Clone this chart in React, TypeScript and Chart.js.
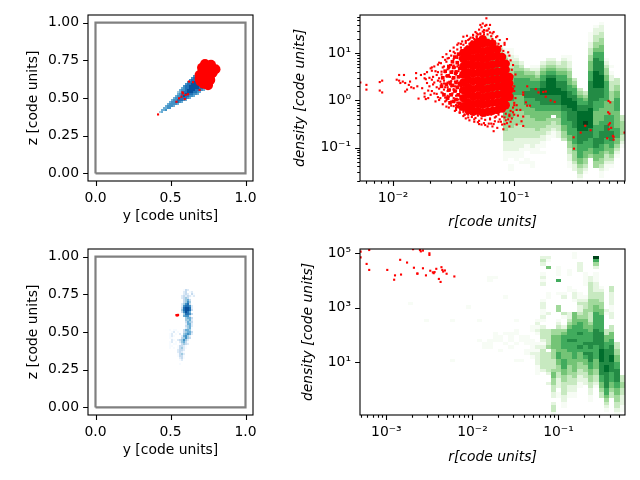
import { useEffect, useRef } from "react";
import { Chart } from "chart.js/auto";

const greens = ["#f7fcf5", "#e5f5e0", "#c7e9c0", "#a1d99b", "#74c476", "#41ab5d", "#238b45", "#006d2c", "#00441b"];
const blues = ["#f7fbff", "#deebf7", "#c6dbef", "#9ecae1", "#6baed6", "#4292c6", "#2171b5", "#08519c", "#08306b"];

const boxY = [0, 1, 1, 0, 0];
const boxZ = [0, 0, 1, 1, 0];

// top left: blue histogram rows
const coneRow = [30, 31, 32, 33, 34, 35, 36, 37, 38, 39, 40, 41, 42, 43, 44, 45, 46, 47, 48, 49, 50];
const coneCol = [32, 33, 34, 35, 36, 37, 38, 39, 40, 41, 41, 42, 43, 44, 45, 46, 47, 48, 49, 50, 51];
const coneShades = ["45", "556", "5566", "56665", "566665", "5667765", "56677765", "566777765", "5667877665", "56778877665", "456778887765", "5667888877765", "567788888776", "67788888777", "6778888877", "677888877", "67788877", "6778887", "67887", "6787", "676"];
const coneRedY = [0.417, 0.623, 0.65, 0.583, 0.601, 0.617, 0.573, 0.557, 0.595, 0.54, 0.694, 0.579];
const coneRedZ = [0.391, 0.609, 0.605, 0.531, 0.52, 0.525, 0.509, 0.498, 0.493, 0.475, 0.553, 0.538];
const clumpY = [0.741, 0.774, 0.787, 0.714, 0.747, 0.781, 0.694, 0.728, 0.761, 0.694, 0.728, 0.754, 0.74, 0.71, 0.7, 0.72, 0.75, 0.765, 0.8, 0.77, 0.73];
const clumpZ = [0.703, 0.703, 0.687, 0.673, 0.673, 0.667, 0.653, 0.64, 0.64, 0.627, 0.607, 0.607, 0.65, 0.7, 0.61, 0.595, 0.585, 0.62, 0.69, 0.72, 0.725];

// bottom left: blue histogram rows
const streakRow = [58, 57, 56, 55, 54, 53, 52, 51, 50, 49, 48, 47, 46, 45, 44, 43, 42, 41, 40, 39, 38, 37, 36, 35, 34, 33, 32, 31, 30, 29, 28, 27, 26, 25, 24, 23, 38, 37, 36, 35, 34, 33, 32, 31, 30, 29, 21];
const streakCol = [44, 44, 44, 43, 43, 44, 44, 43, 43, 43, 43, 43, 44, 44, 45, 45, 45, 45, 45, 45, 44, 44, 44, 43, 43, 42, 42, 42, 41, 41, 41, 41, 41, 41, 42, 42, 37, 38, 37, 36, 37, 38, 37, 37, 36, 37, 42];
const streakShades = ["132", "23012", "232031", "2323212", "23431", "3453", "3464", "24673", "267762", "378872", "478873", "36875", "47763", "5663", "4553", "4452", "3543", "2552", "3452", "2451", "35541", "34553", "45652", "25642", "34643", "34642", "24531", "13432", "13321", "13421", "2332", "2321", "1342", "1331", "231", "12", "10110", "1201", "120102", "0121", "11", "2102", "1201", "1011", "011", "1010", "1"];
const streakRedY = [0.54, 0.545, 0.55];
const streakRedZ = [0.612, 0.61, 0.613];

// top right: green histogram columns
const topCol = [23, 24, 25, 26, 27, 28, 29, 30, 31, 32, 33, 34, 35, 36, 37, 38, 39, 40, 41, 42, 43, 44, 45, 46, 47, 48, 49];
const topStart = [6, 5, 7, 8, 10, 10, 12, 14, 16, 15, 15, 14, 13, 13, 14, 12, 12, 19, 22, 23, 5, 3, 2, 13, 15, 19, 30];
const topShades = [
  "232333444455555554",
  "1234444555566665555",
  "123445556666655554",
  "1234455566666655555",
  "1234445556666666655554444333222111",
  "1122334455566666555554443333222110011",
  "12344556666655555444433332222111",
  "2345566666555554444333322211101",
  "34566667766555444433322110011",
  "1245566777666555444333222110011",
  "123456677776665554443322111",
  "2345667788777665554433221101",
  "2345678888877766554433211",
  "234567888887776650433211",
  "23456677887776655443322",
  "12334566777888877666655443",
  "1122344556677888777766665544332211",
  "3456677888777776666655444322",
  "3456677888888777766665543321",
  "3456778889887776665544321",
  "11122334455566677777777888888777666554",
  "1223344566777788888777766655556666777665544",
  "12233445566677778888777666555566677776655443211",
  "1234455666666555566677776655433211",
  "1012233344455556666677766554321",
  "334455666655555666554321",
  "3344443321",
];

// log10 of r and density for the scattered red particles
const topRedLogR = [
  -2.27, -2.22, -2.22, -2.11, -2.09, -2.11, -2.09, -1.97, -1.95, -1.95, -1.94, -1.91, -1.92, -1.9, -1.885, -1.9, -1.87, -1.86, -1.85, -1.81, -1.81, -1.83, -1.8, -1.79, -1.77, -1.74, -1.74, -1.76, -1.74, -1.73, -1.72, -1.71, -1.68, -1.68, -1.66, -1.64, -1.64, -1.62, -1.61, -1.605, -1.6, -1.58, -1.57, -1.56, -1.55, -1.54, -1.53, -1.53, -1.52, -1.5, -1.49, -1.48, -1.47, -1.46, -1.45, -1.43, -1.41, -1.42, -1.39, -1.37, -1.35, -1.34, -1.32, -1.31, -1.27, -1.25, -1.28, -1.26, -1.23, -1.23, -1.2, -1.21, -1.19, -1.17, -1.15, -1.09, -1.1, -1.06, -1.06, -1.04, -1.08,
  -0.893, -0.926, -0.926, -0.822, -0.8, -0.76, -0.74, -0.74, -0.7, -0.666, -0.904, -0.893, -0.87, -0.98, -0.95, -1.0, -0.97, -0.926, -0.94, -0.98, -0.926, -0.51, -0.507, -0.452, -0.414, -0.37, -0.222, -0.208, -0.225, -0.214, -0.22, -0.21, -0.2, -0.22, -0.233, -0.186, -0.18, -0.18, -0.09,
  -1.7, -1.69, -1.67, -1.65, -1.63, -1.62, -1.6, -1.59, -1.58, -1.57, -1.56, -1.55, -1.54, -1.53, -1.52, -1.51, -1.5, -1.5, -1.49, -1.48, -1.47, -1.47, -1.46, -1.45, -1.44, -1.44, -1.43, -1.42, -1.41, -1.4, -1.68, -1.63, -1.59, -1.56, -1.53, -1.5, -1.47, -1.57, -1.52, -1.49, -1.45, -1.42, -1.39, -1.44, -1.4, -1.37, -1.34, -1.31, -1.28, -1.25, -1.22, -1.18, -1.14, -1.38, -1.33, -1.29, -1.24, -1.2, -1.16, -1.12, -1.08, -1.04, -1.3, -1.24, -1.18, -1.13, -1.07, -1.03, -1.02, -1.01, -1.0, -1.02, -1.01,
];
const topRedLogD = [
  0.38, 0.33, 0.23, 0.39, 0.42, 0.21, 0.17, 0.44, 0.54, 0.42, 0.37, 0.54, 0.4, 0.37, 0.23, 0.19, 0.33, 0.4, 0.28, 0.58, 0.47, 0.26, 0.3, 0.04, 0.54, 0.56, 0.47, 0.26, 0.08, 0.03, 0.37, 0.21, 0.63, 0.44, 0.15, 0.28, 0.54, 0.01, 0.4, 0.79, 0.61, 0.23, 0.86, -0.13, 0.89, 0.54, -0.06, 0.23, 0.75, 1.03, 0.01, -0.16, 0.72, 1.21, -0.13, 1.25, -0.3, 1.35, 1.37, -0.2, -0.35, 1.39, -0.37, 1.42, -0.51, 1.49, 1.6, 1.63, 1.74, 1.6, 1.6, -0.49, -0.49, -0.65, -0.34, -0.61, -0.51, 1.3, -0.48, -0.55, 1.18,
  0.3, 0.17, 0.12, 0.24, 0.17, 0.18, 0.19, 0.08, 0, -0.03, -0.04, -0.11, -0.11, -0.2, -0.2, -0.3, -0.32, -0.34, -0.44, -0.51, -0.54, -0.78, -1.02, -0.68, -0.535, -0.63, -0.01, -0.04, -0.25, -0.28, -0.51, -0.48, -0.58, -0.61, -0.8, -0.75, -0.77, -0.83, -0.68,
  0.48, 0.12, 0.34, 0.62, 0.07, 0.47, 0.17, 0.7, 0.36, 0.06, 0.52, 0.28, 0.68, 0.13, 0.41, 0.83, -0.03, 0.24, 0.58, -0.1, 0.93, 0.12, 0.99, 0.32, -0.18, 1.04, 0.76, -0.24, 1.1, 0.9, 0.7, 0.76, 0.92, 0.98, 1.05, 1.12, 1.18, -0.02, -0.11, -0.22, -0.26, -0.33, -0.28, 1.2, 1.26, 1.3, 1.33, 1.36, 1.4, 1.44, 1.48, 1.42, 1.36, -0.36, -0.4, -0.43, -0.41, -0.38, -0.44, -0.4, -0.36, -0.33, -0.46, -0.52, -0.55, -0.45, -0.42, -0.22, 0.1, 0.25, -0.1, 0.45, -0.25,
];

// denser particles round the edge of the cloud
const topRimLogR = [
  -1.74, -1.73, -1.72, -1.71, -1.7, -1.69, -1.68, -1.67, -1.66, -1.66, -1.65, -1.64, -1.63, -1.63, -1.62, -1.62, -1.61, -1.6, -1.6, -1.59, -1.59, -1.58, -1.58, -1.57, -1.57, -1.56, -1.56, -1.55, -1.55, -1.55, -1.54, -1.54, -1.54, -1.53, -1.53, -1.52, -1.52, -1.52, -1.51, -1.51, -1.51, -1.5, -1.5, -1.5, -1.49, -1.49, -1.49, -1.48, -1.48, -1.48, -1.47, -1.47, -1.47, -1.46, -1.46, -1.45, -1.45, -1.45, -1.44, -1.44, -1.44, -1.43, -1.43, -1.42, -1.42, -1.42, -1.41, -1.41,
  -1.5, -1.49, -1.48, -1.47, -1.46, -1.45, -1.44, -1.43, -1.51, -1.48, -1.46, -1.44, -1.47, -1.45, -1.5, -1.43, -1.49, -1.46, -1.53, -1.55,
  -1.4, -1.39, -1.38, -1.37, -1.36, -1.35, -1.34, -1.33, -1.32, -1.31, -1.3, -1.29, -1.28, -1.27, -1.26, -1.25, -1.24, -1.23, -1.22, -1.21, -1.2, -1.19, -1.18, -1.17, -1.16, -1.15, -1.13, -1.12, -1.11, -1.09, -1.08,
  -1.4, -1.38, -1.37, -1.35, -1.33, -1.3, -1.29, -1.27, -1.25, -1.24, -1.22, -1.2, -1.19, -1.17, -1.16, -1.14, -1.13, -1.11, -1.1, -1.08, -1.07, -1.05, -1.04, -1.03, -1.02, -1.01, -1.0, -0.99, -1.0, -0.99, -1.02, -1.01, -1.03, -1.04, -1.05, -1.0, -0.98,
];
const topRimLogD = [
  0.15, 0.45, 0.6, 0.05, 0.3, 0.68, 0.2, 0.5, 0.38, 0.72, -0.02, 0.14, 0.42, 0.6, 0.25, 0.8, 0.05, 0.35, 0.55, -0.08, 0.15, 0.72, 0.42, 0.28, 0.6, 0.0, 0.82, 0.2, 0.38, 0.66, -0.15, 0.08, 0.9, 0.5, 0.75, -0.02, 0.3, 0.95, 0.15, 0.62, 0.82, -0.12, 0.05, 0.88, 0.4, 0.7, 1.0, -0.2, 0.2, 0.55, -0.05, 0.9, 1.08, -0.15, 0.75, 0.1, 0.98, -0.25, 0.3, 0.85, 1.12, -0.08, 0.6, -0.2, 1.05, 1.18, -0.3, 1.0,
  0.22, 0.3, 0.1, 0.42, 0.3, 0.5, 0.18, 0.42, 0.46, 0.62, 0.02, 0.68, 0.26, 0.88, 0.74, 0.2, 0.56, 0.62, 0.34, 0.1,
  1.22, 1.14, 1.28, 1.2, 1.33, 1.25, 1.38, 1.3, 1.45, 1.34, 1.4, 1.5, 1.42, 1.55, 1.46, 1.4, 1.58, 1.48, 1.4, 1.52, 1.44, 1.36, 1.3, 1.45, 1.25, 1.34, 1.2, 1.28, 1.15, 1.05, 1.22,
  -0.38, -0.3, -0.42, -0.28, -0.45, -0.32, -0.5, -0.38, -0.48, -0.32, -0.55, -0.4, -0.3, -0.5, -0.36, -0.58, -0.3, -0.45, -0.34, -0.5, -0.28, -0.4, -0.3, -0.45, -0.38, -0.15, -0.05, 0.05, 0.3, 0.55, 0.65, 0.75, 0.85, 0.95, 1.02, 0.2, -0.1,
];

// thick patches where the particles on the left of the cloud run together
const topMidLogR = [-1.6, -1.59, -1.58, -1.57, -1.56, -1.55, -1.55, -1.54, -1.54, -1.53, -1.53, -1.52, -1.52, -1.51, -1.51, -1.5, -1.5, -1.5, -1.49, -1.49, -1.48, -1.48, -1.48, -1.47, -1.47, -1.47, -1.46, -1.46, -1.46, -1.45, -1.45, -1.45, -1.44, -1.44, -1.44, -1.44, -1.43, -1.43];
const topMidLogD = [0.3, 0.48, 0.12, 0.62, 0.34, 0.05, 0.52, 0.72, 0.22, 0.38, -0.05, 0.6, 0.12, 0.82, 0.32, 0.48, -0.02, 0.7, 0.2, 0.92, 0.38, 0.6, 0.02, 0.8, -0.12, 0.28, 0.5, 0.98, 0.12, 0.68, -0.06, 0.36, 0.9, 0.2, -0.18, 0.52, 1.05, 0.76];

// the solid middle of the red cloud
const topCoreLogR = [
  -1.42, -1.42, -1.42, -1.42, -1.42, -1.42, -1.42, -1.42,
  -1.38, -1.38, -1.38, -1.38, -1.38, -1.38, -1.38, -1.38, -1.38, -1.34, -1.34, -1.34, -1.34, -1.34, -1.34, -1.34, -1.34, -1.34, -1.34,
  -1.3, -1.3, -1.3, -1.3, -1.3, -1.3, -1.3, -1.3, -1.3, -1.3, -1.26, -1.26, -1.26, -1.26, -1.26, -1.26, -1.26, -1.26, -1.26, -1.26, -1.26,
  -1.22, -1.22, -1.22, -1.22, -1.22, -1.22, -1.22, -1.22, -1.22, -1.22, -1.18, -1.18, -1.18, -1.18, -1.18, -1.18, -1.18, -1.18, -1.18, -1.18,
  -1.14, -1.14, -1.14, -1.14, -1.14, -1.14, -1.14, -1.14, -1.14, -1.1, -1.1, -1.1, -1.1, -1.1, -1.1, -1.1, -1.1,
  -1.07, -1.07, -1.07, -1.07, -1.07, -1.07, -1.07, -1.04, -1.04, -1.04, -1.04,
];
const topCoreLogD = [
  -0.12, 0.05, 0.22, 0.38, 0.55, 0.71, 0.88, 1.0,
  -0.2, -0.05, 0.12, 0.28, 0.44, 0.6, 0.77, 0.93, 1.08, -0.24, -0.08, 0.08, 0.24, 0.41, 0.57, 0.73, 0.89, 1.05, 1.18,
  -0.22, -0.06, 0.1, 0.27, 0.43, 0.59, 0.75, 0.92, 1.08, 1.24, -0.26, -0.09, 0.07, 0.23, 0.39, 0.56, 0.72, 0.88, 1.04, 1.2, 1.3,
  -0.24, -0.07, 0.09, 0.25, 0.42, 0.58, 0.74, 0.9, 1.06, 1.22, -0.22, -0.05, 0.11, 0.28, 0.44, 0.6, 0.76, 0.93, 1.09, 1.2,
  -0.2, -0.04, 0.12, 0.29, 0.45, 0.61, 0.78, 0.94, 1.08, -0.17, -0.02, 0.14, 0.3, 0.46, 0.62, 0.78, 0.92,
  -0.1, 0.05, 0.2, 0.35, 0.5, 0.65, 0.78, 0.08, 0.22, 0.36, 0.5,
];

// bottom right: green histogram columns
const lowCol = [9, 12, 17, 20, 22, 22, 23, 24, 25, 26, 27, 28, 29, 30, 31, 32, 33, 34, 35, 36, 37, 38, 39, 40, 41, 42, 43, 44, 45, 46, 47, 48, 49];
const lowStart = [16, 21, 21, 17, 21, 27, 28, 8, 8, 26, 14, 25, 21, 26, 26, 23, 21, 2, 2, 24, 5, 13, 5, 1, 3, 7, 8, 2, 11, 18, 11, 28, 38];
const lowShades = [
  "1",
  "1",
  "1000000000001",
  "1",
  "1",
  "1",
  "11",
  "1100000000000000000111",
  "10000000000000000111",
  "11001",
  "100000000001001",
  "11101",
  "1001100100001",
  "11000001",
  "111011",
  "1100111121",
  "12121001212222111",
  "23200121200001221121023332123333332",
  "210500000001100002000033333403333332002",
  "44555544433345544332202331",
  "1110600010004400123445555566554433222011",
  "1200003100245666655566655443333221100",
  "0110001100000022345666766655554443332211",
  "110000000001221000555566667666665555443322110",
  "022200000011232234566676667655544332211",
  "111100012334445556666766765544332200",
  "22333334444333455666776777665544332211",
  "96420111222334455666667777766665554433210",
  "1233344556666677777888877776655433",
  "2100003355667777788777776654321",
  "3322221122003355667778877766655433",
  "3344556677776655443321",
  "33443322211",
];

const lowRedLogR = [-3.3, -3.3, -3.23, -3.2, -3.2, -2.99, -2.91, -2.9, -2.84, -2.83, -2.76, -2.69, -2.68, -2.64, -2.64, -2.61, -2.6, -2.575, -2.575, -2.54, -2.5, -2.5, -2.49, -2.46, -2.45, -2.44, -2.42, -2.39, -2.37, -2.36, -2.35, -2.34, -2.32, -2.3, -2.21];
const lowRedLogD = [5.06, 4.85, 4.61, 5.12, 4.39, 4.39, 4.03, 4.19, 4.76, 4.22, 4.66, 5.15, 4.47, 4.25, 4.26, 5.12, 5.07, 5.1, 4.45, 4.19, 5.0, 4.94, 4.36, 4.3, 4.27, 4.31, 4.43, 4.06, 3.95, 4.49, 4.39, 4.33, 4.37, 4.25, 4.15];

const supers: Record<string, string> = { "-": "⁻", "0": "⁰", "1": "¹", "2": "²", "3": "³", "5": "⁵" };
const powerLabel = (v: number) => "10" + String(Math.round(Math.log10(v))).split("").map((c) => supers[c]).join("");

const zip = (xs: number[], ys: number[]) => xs.map((x, i) => ({ x, y: ys[i] }));
const zipLog = (xs: number[], ys: number[]) => xs.map((x, i) => ({ x: 10 ** x, y: 10 ** ys[i] }));

const red = (data: any[], radius = 1.5, style = "rect") => ({
  data,
  pointStyle: style,
  pointRadius: radius,
  pointBackgroundColor: "#ff0000",
  pointBorderWidth: 0,
  showLine: false,
});

const box = {
  data: zip(boxY, boxZ),
  showLine: true,
  borderColor: "#808080",
  borderWidth: 2.2,
  pointRadius: 0,
};

const cellsOf = (cols: number[], starts: number[], shades: string[], palette: string[], byRow: boolean, xEdge: (i: number) => number, yEdge: (j: number) => number) => {
  const cells: any[] = [];
  shades.forEach((s, k) => {
    s.split("").forEach((c, n) => {
      if (c === "0") return;
      const i = byRow ? cols[k] + n : cols[k];
      const j = byRow ? starts[k] : starts[k] + n;
      cells.push({ x0: xEdge(i), x1: xEdge(i + 1), y0: yEdge(j), y1: yEdge(j + 1), color: palette[Number(c) - 1] });
    });
  });
  return cells;
};

const heatPlugin = (cells: any[]) => ({
  id: "heat",
  beforeDatasetsDraw(chart: any) {
    const { ctx, scales } = chart;
    cells.forEach((c) => {
      const x0 = Math.round(scales.x.getPixelForValue(c.x0));
      const x1 = Math.round(scales.x.getPixelForValue(c.x1));
      const y0 = Math.round(scales.y.getPixelForValue(c.y0));
      const y1 = Math.round(scales.y.getPixelForValue(c.y1));
      ctx.fillStyle = c.color;
      ctx.fillRect(Math.min(x0, x1), Math.min(y0, y1), Math.abs(x1 - x0), Math.abs(y1 - y0));
    });
  },
});

// matplotlib style spines plus long major and short minor tick marks
const framePlugin = {
  id: "frame",
  afterDraw(chart: any) {
    const { ctx, chartArea: a, scales } = chart;
    ctx.save();
    ctx.strokeStyle = "#000";
    ctx.lineWidth = 1.1;
    ctx.strokeRect(a.left, a.top, a.right - a.left, a.bottom - a.top);
    ctx.beginPath();
    scales.x.ticks.forEach((t: any) => {
      const p = Math.round(scales.x.getPixelForValue(t.value)) + 0.5;
      ctx.moveTo(p, a.bottom);
      ctx.lineTo(p, a.bottom + (t.major ? 4.9 : 2.8));
    });
    scales.y.ticks.forEach((t: any) => {
      const p = Math.round(scales.y.getPixelForValue(t.value)) + 0.5;
      ctx.moveTo(a.left, p);
      ctx.lineTo(a.left - (t.major ? 4.9 : 2.8), p);
    });
    ctx.stroke();
    ctx.restore();
  },
};

const font = { family: "DejaVu Sans", size: 13.9 };

const axis = (opts: any) => ({
  type: opts.type,
  min: opts.min,
  max: opts.max,
  grid: { display: false, drawTicks: false },
  border: { display: false },
  afterFit: (s: any) => {
    opts.fit(s);
    // tick labels may overhang, the plot box must not move for them
    s.paddingTop = 0;
    s.paddingBottom = 0;
    s.paddingLeft = 0;
    s.paddingRight = 0;
  },
  afterBuildTicks: (scale: any) => {
    scale.ticks = opts.ticks;
  },
  ticks: {
    color: "#000",
    font,
    padding: 9,
    autoSkip: false,
    maxRotation: 0,
    minRotation: 0,
    callback: opts.label,
  },
  title: {
    display: true,
    text: opts.title,
    color: "#000",
    font: { ...font, style: opts.italic ? "italic" : "normal" },
    padding: opts.titlePadding,
  },
});

const majorTicks = (values: number[]) => values.map((value) => ({ value, major: true }));

const logTicks = (min: number, max: number) => {
  const out: any[] = [];
  for (let e = Math.floor(Math.log10(min)); e <= Math.ceil(Math.log10(max)); e++) {
    for (let m = 1; m < 10; m++) {
      const value = m * 10 ** e;
      if (value >= min && value <= max) out.push({ value, major: m === 1 });
    }
  }
  return out;
};

const fixedLabel = (digits: number) => (v: number) => Number(v).toFixed(digits);
const majorLabel = (v: number, i: number, t: any[]) => (t[i].major ? powerLabel(v) : "");

const linearBin = 0.0133;
const linEdge = (i: number) => i * linearBin;

const topX = [-2.273, -0.086];
const topY = [-1.705, 1.81];
const lowX = [-3.307, -0.226];
const lowY = [-0.93, 5.157];
const logEdge = (range: number[], bins = 50) => (i: number) => 10 ** (range[0] + (i * (range[1] - range[0])) / bins);
const logEdgeDown = (range: number[], bins = 50) => (j: number) => 10 ** (range[1] - (j * (range[1] - range[0])) / bins);

const spatialOptions = (topPad: number, xTitlePad: number, yTitlePad: number) => ({
  responsive: false,
  animation: false,
  devicePixelRatio: 1,
  layout: { padding: { left: 0, right: 27, top: topPad, bottom: 0 } },
  plugins: { legend: { display: false }, tooltip: { enabled: false } },
  scales: {
    x: axis({
      type: "linear", min: -0.05, max: 1.05, ticks: majorTicks([0, 0.5, 1]), label: fixedLabel(1),
      title: "y [code units]", titlePadding: { top: 0, bottom: xTitlePad },
      fit: (s: any) => { s.height = 240 - (topPad + 166); },
    }),
    y: axis({
      type: "linear", min: -0.05, max: 1.05, ticks: majorTicks([0, 0.25, 0.5, 0.75, 1]), label: fixedLabel(2),
      title: "z [code units]", titlePadding: { top: yTitlePad, bottom: 0 },
      fit: (s: any) => { s.width = 88; },
    }),
  },
});

const profileOptions = (topPad: number, xr: number[], yr: number[], yTicks: any[], xTitlePad: number, yTitlePad: number) => ({
  responsive: false,
  animation: false,
  devicePixelRatio: 1,
  layout: { padding: { left: 0, right: 15, top: topPad, bottom: 0 } },
  plugins: { legend: { display: false }, tooltip: { enabled: false } },
  scales: {
    x: axis({
      type: "logarithmic", min: 10 ** xr[0], max: 10 ** xr[1], ticks: logTicks(10 ** xr[0], 10 ** xr[1]), label: majorLabel,
      title: "r[code units]", italic: true, titlePadding: { top: 0, bottom: xTitlePad },
      fit: (s: any) => { s.height = 240 - (topPad + 166); },
    }),
    y: axis({
      type: "logarithmic", min: 10 ** yr[0], max: 10 ** yr[1], ticks: yTicks, label: majorLabel,
      title: "density [code units]", italic: true, titlePadding: { top: yTitlePad, bottom: 0 },
      fit: (s: any) => { s.width = 80; },
    }),
  },
});

const panels = [
  {
    left: 0, top: 0, width: 280,
    datasets: [red(zip(coneRedY, coneRedZ)), red(zip(clumpY, clumpZ), 5, "circle"), box],
    options: spatialOptions(15, 15.7, 24.7),
    cells: cellsOf(coneCol, coneRow, coneShades, blues, true, linEdge, linEdge),
  },
  {
    left: 280, top: 0, width: 360,
    datasets: [red(zipLog(topRedLogR, topRedLogD)), red(zipLog(topRimLogR, topRimLogD)), red(zipLog(topMidLogR, topMidLogD), 2.6), red(zipLog(topCoreLogR, topCoreLogD), 4.2, "circle")],
    options: profileOptions(15, topX, topY, logTicks(10 ** topY[0], 10 ** topY[1]), 9.7, 11.7),
    cells: cellsOf(topCol, topStart, topShades, greens, false, logEdge(topX), logEdgeDown(topY)),
  },
  {
    left: 0, top: 240, width: 280,
    datasets: [red(zip(streakRedY, streakRedZ), 1.6), box],
    options: spatialOptions(9, 21.7, 24.7),
    cells: cellsOf(streakCol, streakRow, streakShades, blues, true, linEdge, linEdge),
  },
  {
    left: 280, top: 240, width: 360,
    datasets: [red(zipLog(lowRedLogR, lowRedLogD))],
    options: profileOptions(9, lowX, lowY, majorTicks([1e1, 1e3, 1e5]), 14.7, 19.7),
    cells: cellsOf(lowCol, lowStart, lowShades, greens, false, logEdge(lowX), logEdgeDown(lowY)),
  },
];

const Panel = ({ panel }: { panel: any }) => {
  const ref = useRef<HTMLCanvasElement>(null);

  useEffect(() => {
    const chart = new Chart(ref.current as any, {
      type: "scatter",
      data: { datasets: panel.datasets },
      options: panel.options,
      plugins: [heatPlugin(panel.cells), framePlugin],
    } as any);
    return () => chart.destroy();
  }, [panel]);

  return (
    <canvas
      ref={ref}
      width={panel.width}
      height={240}
      style={{ position: "absolute", left: panel.left, top: panel.top, width: panel.width, height: 240 }}
    />
  );
};

export default function App() {
  return (
    <div style={{ position: "absolute", left: 0, top: 0, width: 640, height: 480, background: "#fff" }}>
      {panels.map((p, i) => (
        <Panel key={i} panel={p} />
      ))}
    </div>
  );
}
